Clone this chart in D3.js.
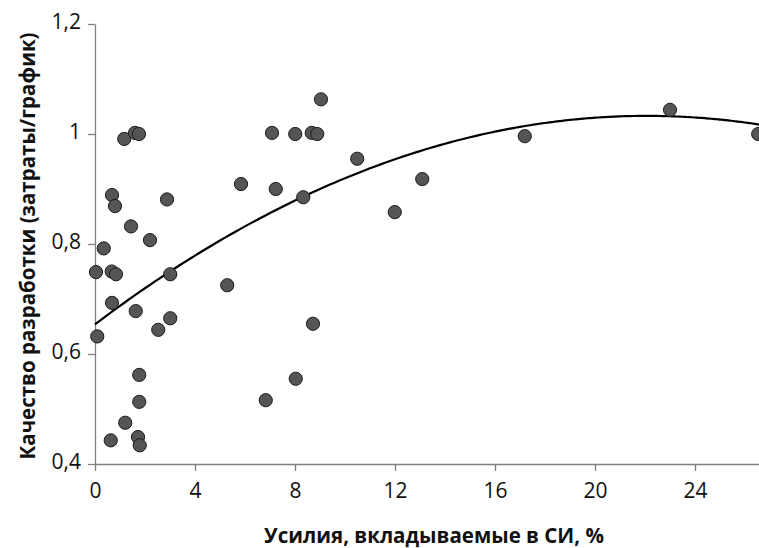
<!DOCTYPE html>
<html>
<head>
<meta charset="utf-8">
<script src="https://cdn.jsdelivr.net/npm/d3@7"></script>
<style>
  body { margin: 0; background: #fff; }
  svg { display: block; }
</style>
</head>
<body>
<div id="chart"></div>
<script>
// effort put into system engineering (%) vs development quality (cost/schedule)
var effort = [1.17, 1.6, 1.76, 0.68, 0.8, 2.88, 1.44, 2.2, 0.35, 5.84, 7.08, 7.23,
              0.04, 0.67, 0.84, 3.01, 5.29, 0.68, 1.63, 3.01, 2.53, 0.09,
              1.77, 1.77, 6.83, 1.21, 0.63, 1.72, 1.79,
              9.04, 8.01, 8.67, 8.89, 10.49, 8.33, 8.72, 8.03,
              13.09, 11.99, 17.19, 23.0, 26.53];
var quality = [0.991, 1.002, 1.0, 0.889, 0.869, 0.881, 0.832, 0.807, 0.792, 0.909, 1.002, 0.90,
               0.749, 0.75, 0.745, 0.745, 0.725, 0.693, 0.678, 0.665, 0.644, 0.632,
               0.562, 0.513, 0.516, 0.475, 0.443, 0.449, 0.434,
               1.063, 1.0, 1.002, 1.0, 0.955, 0.885, 0.655, 0.555,
               0.918, 0.858, 0.996, 1.044, 1.0];

// polynomial trend line y = c0 + c1*x + c2*x^2
var trendCoef = [0.654, 0.03434, -0.000778];

var xTicks = [0, 4, 8, 12, 16, 20, 24];
var yTicks = [0.4, 0.6, 0.8, 1.0, 1.2];
var yTickLabels = ['0,4', '0,6', '0,8', '1', '1,2'];

var width = 759, height = 548;
var font = '"Open Sans", "DejaVu Sans", sans-serif';

var svg = d3.select('#chart').append('svg')
    .attr('width', width)
    .attr('height', height);

var x = d3.scaleLinear().domain([0, 26.56]).range([95, 759]);
var y = d3.scaleLinear().domain([0.4, 1.2]).range([464, 24]);

var axisColor = '#808080';

var xAxis = svg.append('g')
    .attr('transform', 'translate(0,' + y(0.4) + ')')
    .call(d3.axisBottom(x).tickValues(xTicks).tickSize(7).tickSizeOuter(0).tickPadding(10)
        .tickFormat(d3.format('d')));

var yAxis = svg.append('g')
    .attr('transform', 'translate(' + x(0) + ',0)')
    .call(d3.axisLeft(y).tickValues(yTicks).tickSize(7).tickSizeOuter(0).tickPadding(7)
        .tickFormat(function(d, i) { return yTickLabels[i]; }));

[xAxis, yAxis].forEach(function(a) {
  a.select('.domain').attr('stroke', axisColor).attr('stroke-width', 1.3);
  a.selectAll('.tick line').attr('stroke', axisColor).attr('stroke-width', 1.3);
  a.selectAll('.tick text')
      .attr('fill', '#111')
      .style('font-family', font)
      .style('font-size', '21px');
});
yAxis.selectAll('.tick text').attr('dy', '0.2em');
xAxis.selectAll('.tick text').attr('dy', '0.8em');

// trend line
var trend = function(v) {
  return trendCoef[0] + trendCoef[1] * v + trendCoef[2] * v * v;
};
var line = d3.line()
    .x(function(d) { return x(d); })
    .y(function(d) { return y(trend(d)); })
    .curve(d3.curveMonotoneX);

svg.append('path')
    .datum(d3.range(0, 26.7, 0.2))
    .attr('fill', 'none')
    .attr('stroke', '#000')
    .attr('stroke-width', 2.2)
    .attr('d', line);

svg.append('g').selectAll('circle')
    .data(d3.range(effort.length))
    .enter()
    .append('circle')
    .attr('cx', function(i) { return x(effort[i]); })
    .attr('cy', function(i) { return y(quality[i]); })
    .attr('r', 6.6)
    .attr('fill', '#555555')
    .attr('stroke', '#1a1a1a')
    .attr('stroke-width', 1);

svg.append('text')
    .attr('x', 434)
    .attr('y', 543)
    .attr('text-anchor', 'middle')
    .style('font-family', font)
    .style('font-weight', 'bold')
    .style('font-size', '20.5px')
    .attr('fill', '#111')
    .text('Усилия, вкладываемые в СИ, %');

svg.append('text')
    .attr('transform', 'translate(35,246) rotate(-90)')
    .attr('text-anchor', 'middle')
    .style('font-family', font)
    .style('font-weight', 'bold')
    .style('font-size', '20.5px')
    .attr('fill', '#111')
    .text('Качество разработки (затраты/график)');
</script>
</body>
</html>
